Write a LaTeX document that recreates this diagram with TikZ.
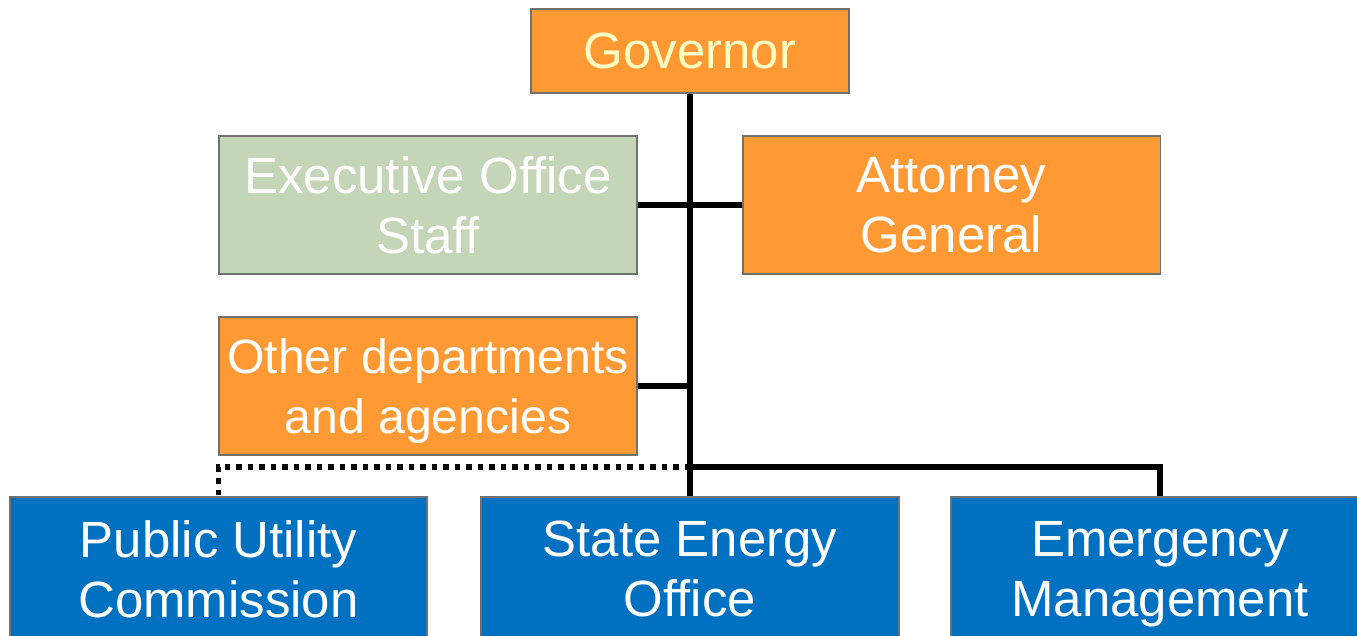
\documentclass[tikz,border=0pt]{standalone}
\usepackage{fontspec}
\setmainfont{Liberation Sans}
\usepackage{tikz}
\usetikzlibrary{positioning,calc}

\definecolor{orgorange}{HTML}{FF9933}
\definecolor{orggreen}{HTML}{C5D6B8}
\definecolor{orgblue}{HTML}{0070C0}
\definecolor{orgborder}{HTML}{707070}
\definecolor{govtext}{HTML}{FFFFC4}

\begin{document}
\begin{tikzpicture}[x=0.02cm,y=-0.02cm,
    unit/.style={draw=orgborder,line width=1.1pt,rectangle,align=center,
      text=white,font=\fontsize{29}{34}\selectfont,text depth=0pt,
      minimum width=8.36cm,minimum height=2.76cm,inner sep=0pt},
    topunit/.style={unit,fill=orgorange,text=govtext,
      minimum width=6.36cm,minimum height=1.68cm},
    staffunit/.style={unit,fill=orggreen},
    deptunit/.style={unit,fill=orgorange},
    agencyunit/.style={unit,fill=orgblue,minimum height=2.88cm},
    link/.style={line width=3.1pt},
    dotlink/.style={line width=3.1pt,dash pattern=on 0.11cm off 0.12cm}]
    \clip (0,0) rectangle (1357,636);
    \useasboundingbox (0,0) rectangle (1357,636);

    % Governor
    \node[topunit] (gov) at (690,51) {Governor};

    % Staff and departments
    \node[staffunit] (staff) at (428,205) {Executive Office\\Staff};
    \node[deptunit] (ag) at (951.5,205) {Attorney\\General};
    \node[deptunit,font=\fontsize{27.4}{34}\selectfont] (other) at (428,386)
      {Other departments\\and agencies};

    % Energy agencies
    \node[agencyunit] (puc) at (218.5,569) {Public Utility\\Commission};
    \node[agencyunit] (seo) at (690,569) {State Energy\\Office};
    \node[agencyunit] (em) at (1160,569) {Emergency\\Management};

    % Connectors
    \coordinate (split) at (690,467);
    \draw[link] (gov.south) -- (seo.north);
    \draw[link] (staff.east) -- (ag.west);
    \draw[link] (other.east) -- (other.east -| gov.south);
    \draw[link] (split) -| (em.north);
    \draw[dotlink] (split) -| (puc.north);
\end{tikzpicture}
\end{document}
